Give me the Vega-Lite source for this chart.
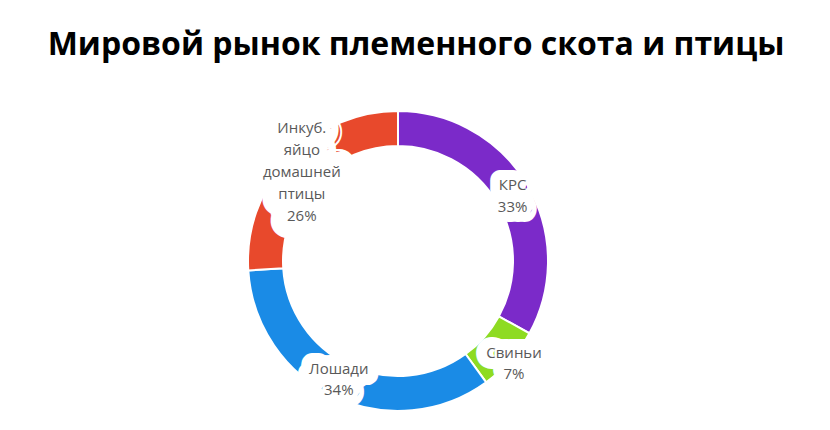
{
  "$schema": "https://vega.github.io/schema/vega-lite/v6.json",
  "width": 300,
  "height": 300,
  "autosize": {"type": "none"},
  "padding": {"left": 248, "top": 111, "right": 282, "bottom": 19},
  "background": "white",
  "title": {
    "text": "Мировой рынок племенного скота и птицы",
    "font": "Open Sans",
    "fontWeight": "bold",
    "fontSize": 32,
    "color": "#000000",
    "anchor": "middle",
    "frame": "group",
    "dx": 18,
    "offset": 45
  },
  "view": {"stroke": null},
  "data": {
    "values": [
      {"n": 1, "name": "КРС", "share": 33, "label": "КРС\n33%"},
      {"n": 2, "name": "Свиньи", "share": 7, "label": "Свиньи\n7%"},
      {"n": 3, "name": "Лошади", "share": 34, "label": "Лошади\n34%"},
      {"n": 4, "name": "Инкуб. яйцо домашней птицы", "share": 26, "label": "Инкуб.\nяйцо\nдомашней\nптицы\n26%"}
    ]
  },
  "encoding": {
    "theta": {"field": "share", "type": "quantitative", "stack": true},
    "order": {"field": "n", "type": "quantitative"}
  },
  "layer": [
    {
      "mark": {"type": "arc", "outerRadius": 150, "innerRadius": 115, "stroke": "white", "strokeWidth": 2},
      "encoding": {
        "color": {
          "field": "name",
          "type": "nominal",
          "scale": {
            "domain": ["КРС", "Свиньи", "Лошади", "Инкуб. яйцо домашней птицы"],
            "range": ["#7B2AC9", "#8EDB22", "#1A8BE6", "#E8492C"]
          },
          "legend": null
        }
      }
    },
    {
      "mark": {"type": "text", "radius": 132, "dx": 1, "dy": -9, "font": "Open Sans", "fontSize": 15, "lineHeight": 22, "lineBreak": "\n", "baseline": "middle", "align": "center", "stroke": "white", "strokeWidth": 20, "strokeJoin": "round", "fill": "white"},
      "encoding": {"text": {"condition": {"test": "datum.name == 'КРС'", "field": "label"}, "value": ""}}
    },
    {
      "mark": {"type": "text", "radius": 132, "dx": 17, "dy": 5, "font": "Open Sans", "fontSize": 15, "lineHeight": 21, "lineBreak": "\n", "baseline": "middle", "align": "center", "stroke": "white", "strokeWidth": 22, "strokeJoin": "round", "fill": "white"},
      "encoding": {"text": {"condition": {"test": "datum.name == 'Свиньи'", "field": "label"}, "value": ""}}
    },
    {
      "mark": {"type": "text", "radius": 132, "dx": -3, "dy": -11, "font": "Open Sans", "fontSize": 15, "lineHeight": 21, "lineBreak": "\n", "baseline": "middle", "align": "center", "stroke": "white", "strokeWidth": 22, "strokeJoin": "round", "fill": "white"},
      "encoding": {"text": {"condition": {"test": "datum.name == 'Лошади'", "field": "label"}, "value": ""}}
    },
    {
      "mark": {"type": "text", "radius": 132, "dx": 0, "dy": -43, "font": "Open Sans", "fontSize": 15, "lineHeight": 22, "lineBreak": "\n", "baseline": "middle", "align": "center", "stroke": "white", "strokeWidth": 34, "strokeJoin": "round", "fill": "white"},
      "encoding": {"text": {"condition": {"test": "datum.n == 4", "field": "label"}, "value": ""}}
    },
    {
      "mark": {"type": "text", "radius": 132, "dx": 1, "dy": -9, "font": "Open Sans", "fontSize": 15, "lineHeight": 22, "lineBreak": "\n", "baseline": "middle", "align": "center", "fill": "#595959"},
      "encoding": {"text": {"condition": {"test": "datum.name == 'КРС'", "field": "label"}, "value": ""}}
    },
    {
      "mark": {"type": "text", "radius": 132, "dx": 17, "dy": 5, "font": "Open Sans", "fontSize": 15, "lineHeight": 21, "lineBreak": "\n", "baseline": "middle", "align": "center", "fill": "#595959"},
      "encoding": {"text": {"condition": {"test": "datum.name == 'Свиньи'", "field": "label"}, "value": ""}}
    },
    {
      "mark": {"type": "text", "radius": 132, "dx": -3, "dy": -11, "font": "Open Sans", "fontSize": 15, "lineHeight": 21, "lineBreak": "\n", "baseline": "middle", "align": "center", "fill": "#595959"},
      "encoding": {"text": {"condition": {"test": "datum.name == 'Лошади'", "field": "label"}, "value": ""}}
    },
    {
      "mark": {"type": "text", "radius": 132, "dx": 0, "dy": -43, "font": "Open Sans", "fontSize": 15, "lineHeight": 22, "lineBreak": "\n", "baseline": "middle", "align": "center", "fill": "#595959"},
      "encoding": {"text": {"condition": {"test": "datum.n == 4", "field": "label"}, "value": ""}}
    }
  ]
}
